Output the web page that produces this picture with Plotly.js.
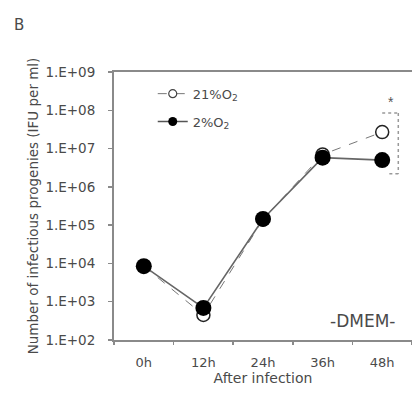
<!DOCTYPE html>
<html>
<head>
<meta charset="utf-8">
<script src="https://cdn.plot.ly/plotly-3.0.1.min.js"></script>
<style>html,body{margin:0;padding:0;background:#fff;}#chart{width:412px;height:399px;}</style>
</head>
<body>
<div id="chart"></div>
<script>
// Data
var timepoints = ['0h', '12h', '24h', '36h', '48h'];
var o2_21 = [8500, 450, 140000, 7000000, 27000000];
var o2_2 = [8500, 690, 145000, 5800000, 5000000];
var yTickVals = [1e2, 1e3, 1e4, 1e5, 1e6, 1e7, 1e8, 1e9];
var yTickText = ['1.E+02', '1.E+03', '1.E+04', '1.E+05', '1.E+06', '1.E+07', '1.E+08', '1.E+09'];
// significance bracket (48h comparison): x in category index units
var bracketX = [4.0, 4.27, 4.12];   // top-left, vertical, bottom-left
var bracketY = [8.5e7, 2.2e6];
var starX = 4.14;
var starY = 1.6e8;

var font = 'DejaVu Sans, Liberation Sans, Arial, sans-serif';
var axisColor = '#8a8a8a';
var textColor = '#4a4a4a';

var traces = [
  {x: timepoints, y: o2_21, type: 'scatter', mode: 'lines+markers', showlegend: false,
   line: {color: '#777', width: 1, dash: 'dash'},
   marker: {symbol: 'circle', size: 13, color: '#fff', line: {color: '#222', width: 1.5}}},
  {x: timepoints, y: o2_2, type: 'scatter', mode: 'lines+markers', showlegend: false,
   line: {color: '#666', width: 1.6},
   marker: {symbol: 'circle', size: 16, color: '#000', line: {color: '#000', width: 0}}},
  // legend entries
  {x: [null], y: [null], type: 'scatter', mode: 'lines+markers', name: '21%O<sub>2</sub>', legendgroup: 'a',
   line: {color: '#777', width: 1, dash: 'dash'},
   marker: {symbol: 'circle', size: 8, color: '#fff', line: {color: '#444', width: 1.2}}},
  {x: [null], y: [null], type: 'scatter', mode: 'lines+markers', name: '2%O<sub>2</sub>', legendgroup: 'b',
   line: {color: '#555', width: 1.6},
   marker: {symbol: 'circle', size: 9, color: '#000'}}
];

var bracketLine = {color: '#999', width: 1.5, dash: 'dot'};

var layout = {
  width: 412, height: 399,
  margin: {l: 114, r: 0, t: 72, b: 59},
  paper_bgcolor: '#fff', plot_bgcolor: '#fff',
  font: {family: font, size: 13, color: textColor},
  showlegend: true,
  legend: {x: 0.13, y: 0.975, xanchor: 'left', yanchor: 'top', bgcolor: 'rgba(0,0,0,0)',
    font: {family: font, size: 13, color: textColor}, tracegroupgap: 8, itemwidth: 30},
  xaxis: {
    type: 'category', range: [-0.5, 4.5], fixedrange: true,
    showgrid: false, zeroline: false,
    showline: true, linecolor: axisColor, linewidth: 2, mirror: true,
    ticks: 'outside', tickson: 'boundaries', ticklen: 3, tickwidth: 1.5, tickcolor: axisColor,
    ticklabelstandoff: 9,
    tickfont: {family: font, size: 13, color: textColor},
    title: {text: 'After infection', font: {family: font, size: 14, color: textColor}, standoff: 1}
  },
  yaxis: {
    type: 'log', range: [2, 9], fixedrange: true,
    showgrid: false, zeroline: false,
    showline: true, linecolor: axisColor, linewidth: 2,
    ticks: 'outside', ticklen: 4, tickwidth: 1.5, tickcolor: axisColor,
    ticklabelstandoff: 10,
    tickvals: yTickVals, ticktext: yTickText,
    tickfont: {family: font, size: 13.5, color: textColor},
    title: {text: 'Number of infectious progenies (IFU per ml)', font: {family: font, size: 13.5, color: textColor}, standoff: 4}
  },
  shapes: [
    {type: 'line', xref: 'x', yref: 'y', x0: bracketX[0], x1: bracketX[1], y0: bracketY[0], y1: bracketY[0], line: bracketLine},
    {type: 'line', xref: 'x', yref: 'y', x0: bracketX[1], x1: bracketX[1], y0: bracketY[0], y1: bracketY[1], line: bracketLine},
    {type: 'line', xref: 'x', yref: 'y', x0: bracketX[2], x1: bracketX[1], y0: bracketY[1], y1: bracketY[1], line: bracketLine}
  ],
  annotations: [
    {xref: 'x', yref: 'y', x: starX, y: Math.log10(starY), xanchor: 'center', yanchor: 'middle',
     text: '*', showarrow: false, font: {family: 'Liberation Sans, Arial, sans-serif', size: 14, color: '#555555'}},
    {xref: 'paper', yref: 'paper', x: 0.95, y: 0.07, xanchor: 'right', yanchor: 'middle',
     text: '-DMEM-', showarrow: false, font: {family: font, size: 17, color: textColor}},
    {xref: 'paper', yref: 'paper', x: -0.319, y: 1.175, xanchor: 'center', yanchor: 'middle',
     text: 'B', showarrow: false, font: {family: font, size: 15, color: textColor}}
  ]
};

Plotly.newPlot('chart', traces, layout, {displayModeBar: false, staticPlot: true});
</script>
</body>
</html>
